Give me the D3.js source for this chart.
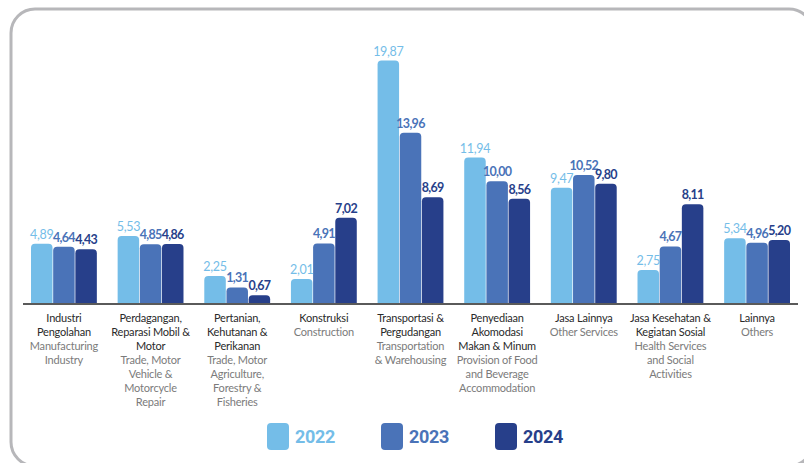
<!DOCTYPE html>
<html>
<head>
<meta charset="utf-8">
<script src="https://cdn.jsdelivr.net/npm/d3@7"></script>
<style>
  body { margin:0; background:#fff; }
  svg { display:block; }
</style>
</head>
<body>
<div id="chart"></div>
<script>
var categories = ["ind", "trade", "agri", "cons", "trans", "food", "other", "health", "others"];
var years = ["2022", "2023", "2024"];
var values2022 = [4.89, 5.53, 2.25, 2.01, 19.87, 11.94, 9.47, 2.75, 5.34];
var values2023 = [4.64, 4.85, 1.31, 4.91, 13.96, 10.00, 10.52, 4.67, 4.96];
var values2024 = [4.43, 4.86, 0.67, 7.02, 8.69, 8.56, 9.80, 8.11, 5.20];
var namesId = [
  ["Industri", "Pengolahan"],
  ["Perdagangan,", "Reparasi Mobil &", "Motor"],
  ["Pertanian,", "Kehutanan &", "Perikanan"],
  ["Konstruksi"],
  ["Transportasi &", "Pergudangan"],
  ["Penyediaan", "Akomodasi", "Makan & Minum"],
  ["Jasa Lainnya"],
  ["Jasa Kesehatan &", "Kegiatan Sosial"],
  ["Lainnya"]
];
var namesEn = [
  ["Manufacturing", "Industry"],
  ["Trade, Motor", "Vehicle &", "Motorcycle", "Repair"],
  ["Trade, Motor", "Agriculture,", "Forestry &", "Fisheries"],
  ["Construction"],
  ["Transportation", "& Warehousing"],
  ["Provision of Food", "and Beverage", "Accommodation"],
  ["Other Services"],
  ["Health Services", "and Social", "Activities"],
  ["Others"]
];

var colors = {"2022": "#74bde8", "2023": "#4a73b8", "2024": "#273f8a"};

var size = { width: 804, height: 463, baseline: 303.5, top: 59, left: 31, right: 790 };

var svg = d3.select("#chart").append("svg")
  .attr("width", size.width)
  .attr("height", size.height);

// frame
svg.append("rect")
  .attr("x", 11).attr("y", 9)
  .attr("width", 802).attr("height", 457)
  .attr("rx", 24).attr("ry", 24)
  .attr("fill", "none")
  .attr("stroke", "#b7b7ba")
  .attr("stroke-width", 3);

var x0 = d3.scaleBand().domain(categories).range([size.left, size.right]).paddingInner(0.24).paddingOuter(0);
var x1 = d3.scaleBand().domain(years).range([0, x0.bandwidth()]).paddingInner(0.03);
var y = d3.scaleLinear().domain([0, 20]).range([size.baseline, size.top]);

var locale = d3.formatLocale({ decimal: ",", thousands: ".", grouping: [3], currency: ["", ""] });
var fmt = locale.format(".2f");

var rows = categories.map(function(c, i) {
  return { cat: c, vals: [
    { year: "2022", v: values2022[i] },
    { year: "2023", v: values2023[i] },
    { year: "2024", v: values2024[i] }
  ]};
});

function topRounded(x, yTop, w, h, r) {
  r = Math.min(r, h, w / 2);
  return "M" + x + "," + (yTop + h) +
    "V" + (yTop + r) +
    "Q" + x + "," + yTop + " " + (x + r) + "," + yTop +
    "H" + (x + w - r) +
    "Q" + (x + w) + "," + yTop + " " + (x + w) + "," + (yTop + r) +
    "V" + (yTop + h) + "Z";
}

var groups = svg.append("g").selectAll("g")
  .data(rows).enter().append("g")
  .attr("transform", function(d) { return "translate(" + x0(d.cat) + ",0)"; });

groups.selectAll("path")
  .data(function(d) { return d.vals; })
  .enter().append("path")
  .attr("fill", function(d) { return colors[d.year]; })
  .attr("d", function(d) {
    var yt = y(d.v);
    return topRounded(x1(d.year), yt, x1.bandwidth(), size.baseline - yt, 4);
  });

groups.selectAll("text.val")
  .data(function(d) { return d.vals; })
  .enter().append("text")
  .attr("class", "val")
  .attr("x", function(d) { return x1(d.year) + x1.bandwidth() / 2; })
  .attr("y", function(d) { return y(d.v) - 5; })
  .attr("text-anchor", "middle")
  .attr("font-family", "Lato, sans-serif")
  .attr("font-size", "12.5px")
  .attr("font-weight", function(d) { return d.year === "2022" ? 400 : 700; })
  .attr("letter-spacing", function(d) { return d.year === "2022" ? "-0.3px" : "-0.7px"; })
  .attr("fill", function(d) { return colors[d.year]; })
  .text(function(d) { return fmt(d.v); });

// baseline
svg.append("line")
  .attr("x1", 23).attr("x2", 798)
  .attr("y1", size.baseline + 0.5).attr("y2", size.baseline + 0.5)
  .attr("stroke", "#5a5a5a")
  .attr("stroke-width", 2);

// category labels
var labels = svg.append("g").selectAll("text")
  .data(categories).enter().append("text")
  .attr("text-anchor", "middle")
  .attr("font-family", "Lato, sans-serif")
  .attr("font-size", "11px")
  .attr("letter-spacing", "-0.2px");

labels.each(function(c, i) {
  var t = d3.select(this);
  var cx = x0(c) + x0.bandwidth() / 2;
  var lines = namesId[i].map(function(s) { return { s: s, dark: true }; })
    .concat(namesEn[i].map(function(s) { return { s: s, dark: false }; }));
  lines.forEach(function(l, k) {
    t.append("tspan")
      .attr("x", cx)
      .attr("y", 322 + k * 14)
      .attr("fill", l.dark ? "#2a2a2a" : "#7b7b7b")
      .text(l.s);
  });
});

// legend
var legendX = d3.scalePoint().domain(years).range([267, 495]);
var legend = svg.append("g").selectAll("g")
  .data(years).enter().append("g")
  .attr("transform", function(d) { return "translate(" + legendX(d) + ",423)"; });

legend.append("rect")
  .attr("width", 22).attr("height", 27)
  .attr("rx", 4).attr("ry", 4)
  .attr("fill", function(d) { return colors[d]; });

legend.append("text")
  .attr("x", 28).attr("y", 20)
  .attr("font-family", "Roboto, sans-serif")
  .attr("font-weight", 700)
  .attr("font-size", "18px")
  .attr("letter-spacing", "-0.3px")
  .attr("fill", function(d) { return colors[d]; })
  .text(function(d) { return d; });
</script>
</body>
</html>
